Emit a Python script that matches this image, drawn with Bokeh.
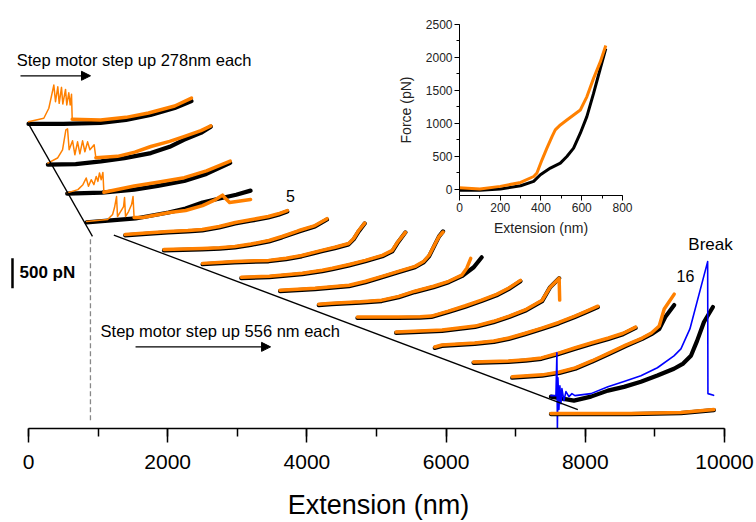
from bokeh.plotting import figure
from bokeh.models import Range1d, Arrow, NormalHead, Label, SingleIntervalTicker, LinearAxis
from bokeh.embed import file_html
from bokeh.resources import INLINE

FONT = "Liberation Sans"
BLACK = "#000000"
ORANGE = "#FF8000"
BLUE = "#0000FF"

# ---------------- main waterfall data ----------------
# start extension (nm) and vertical offset (pN) of each trace pair
start_nm = [0, 278, 556, 834, 1390, 1946, 2502, 3058, 3614, 4170, 4726, 5282, 5838, 6394, 6950, 7506, 7506]
offset_pN = [5100, 4417, 3933, 3450, 3233, 2983, 2750, 2517, 2300, 2067, 1850, 1600, 1350, 1100, 850, 517, 250]

# group 1 (278 nm steps): black = stretch, orange = with unfolding rips
c01_ext_k = [0, 500, 1035, 1400, 1753, 2100, 2342]
c01_k = [0, 0, 17, 67, 150, 267, 383]
c01_ext_rip = [0, 220, 292, 364, 388, 421, 441, 474, 493, 532, 550, 579, 599, 618, 628]
c01_rip = [38, 95, 262, 650, 372, 622, 345, 612, 333, 578, 317, 522, 317, 495, 78]
c01_ext_o = [628, 1035, 1400, 1724, 2100, 2342]
c01_o = [78, 67, 110, 183, 300, 433]

c02_ext_k = [0, 400, 762, 1100, 1480, 1750, 1954, 2199, 2342]
c02_k = [0, 10, 55, 110, 195, 300, 417, 533, 638]
c02_ext_rip = [0, 139, 211, 259, 283, 306, 355, 388, 427, 460, 499, 532, 571, 604, 665, 690]
c02_rip = [28, 112, 250, 583, 600, 250, 400, 167, 383, 183, 400, 217, 383, 250, 333, 117]
c02_ext_o = [690, 1000, 1250, 1480, 1750, 1954, 2199, 2342]
c02_o = [117, 140, 210, 305, 390, 470, 570, 650]

c03_ext_k = [0, 500, 963, 1300, 1681, 2000, 2342]
c03_k = [0, 17, 67, 130, 212, 330, 517]
c03_ext_rip = [0, 154, 226, 273, 306, 345, 384, 417, 441, 464, 489, 513, 527]
c03_rip = [12, 67, 150, 262, 122, 233, 150, 288, 205, 345, 233, 355, 22]
c03_ext_o = [527, 963, 1300, 1681, 2000, 2342]
c03_o = [22, 128, 190, 267, 380, 545]

c04_ext_k = [0, 704, 1178, 1423, 1667, 1911, 2150, 2357]
c04_k = [0, 67, 167, 233, 333, 400, 465, 533]
c04_ext_rip = [0, 302, 374, 402, 431, 445, 489, 532, 546, 560, 604, 647, 668, 683]
c04_rip = [17, 50, 133, 250, 433, 100, 183, 267, 417, 100, 183, 300, 433, 83]
c04_ext_o = [683, 805, 1193, 1423, 1667, 1854, 1954, 1997, 2055, 2357]
c04_o = [83, 83, 167, 200, 283, 383, 458, 400, 333, 383]

# group 2 (556 nm steps)
c05_ext = [0, 300, 618, 900, 1107, 1350, 1581, 1800, 2055, 2200, 2328]
c05_k = [0, 25, 50, 67, 83, 133, 200, 245, 300, 345, 400]
c05_o = [15, 40, 65, 82, 100, 150, 217, 262, 317, 362, 415]

c06_ext = [0, 546, 800, 1020, 1250, 1509, 1696, 1940, 2170, 2342]
c06_k = [0, 17, 30, 50, 90, 150, 217, 317, 400, 517]
c06_o = [15, 32, 45, 65, 105, 165, 232, 332, 415, 530]

c07_ext = [0, 460, 948, 1200, 1423, 1710, 1900, 2098, 2170, 2242, 2328]
c07_k = [0, 33, 50, 85, 133, 217, 270, 333, 417, 550, 683]
c07_o = [15, 48, 65, 100, 148, 232, 285, 348, 432, 565, 690]

c08_ext = [0, 402, 877, 1164, 1308, 1550, 1782, 2026, 2169, 2241, 2357]
c08_k = [0, 17, 67, 117, 150, 215, 283, 367, 450, 583, 767]
c08_o = [15, 32, 82, 132, 165, 230, 298, 382, 465, 598, 767]

c09_ext = [0, 503, 992, 1230, 1466, 1700, 1940, 2060, 2141, 2227, 2285, 2342]
c09_k = [0, 33, 83, 150, 233, 317, 400, 480, 583, 783, 917, 1000]
c09_o = [15, 48, 98, 165, 248, 332, 415, 495, 598, 790, 917, 990]

c10_ext_k = [0, 187, 600, 905, 1150, 1380, 1650, 1868, 2055, 2227, 2342]
c10_k = [0, 17, 40, 67, 130, 217, 300, 383, 483, 633, 800]
c10_ext_o = [0, 187, 600, 905, 1150, 1380, 1650, 1868, 2055, 2127, 2184]
c10_o = [15, 32, 55, 82, 145, 232, 315, 398, 500, 617, 783]

c11_ext = [0, 575, 900, 1063, 1308, 1550, 1782, 2000, 2170, 2342]
c11_k = [0, 0, 8, 17, 100, 190, 283, 380, 483, 617]
c11_o = [15, 15, 23, 32, 115, 205, 298, 395, 498, 630]

c12_ext_k = [0, 661, 1135, 1400, 1624, 1870, 2098, 2213, 2342]
c12_k = [0, 33, 100, 180, 267, 380, 533, 767, 917]
c12_ext_o = [0, 661, 1135, 1400, 1624, 1870, 2098, 2213, 2342, 2350]
c12_o = [15, 48, 115, 195, 282, 395, 548, 767, 917, 550]

c13_ext = [0, 101, 575, 850, 1063, 1300, 1538, 1780, 2012, 2180, 2342]
c13_k = [0, 33, 67, 100, 150, 230, 317, 410, 517, 600, 683]
c13_o = [15, 48, 82, 115, 165, 245, 332, 425, 532, 615, 698]

c14_ext = [0, 503, 750, 977, 1200, 1451, 1700, 1940, 2150, 2328]
c14_k = [0, 17, 35, 67, 140, 233, 320, 400, 480, 583]
c14_o = [15, 32, 50, 82, 155, 248, 335, 415, 495, 598]

c15_ext_k = [0, 431, 680, 905, 1150, 1394, 1630, 1868, 2000, 2112, 2199, 2328]
c15_k = [0, 33, 80, 150, 270, 400, 530, 650, 730, 817, 1017, 1217]
c15_ext_o = [0, 431, 680, 905, 1150, 1394, 1630, 1868, 2000, 2112, 2184, 2328]
c15_o = [15, 48, 95, 165, 285, 415, 545, 665, 750, 867, 1150, 1400]

c16_ext_k = [0, 331, 575, 819, 1050, 1293, 1530, 1768, 1900, 2012, 2100, 2199, 2328]
c16_k = [17, -50, 17, 117, 180, 267, 370, 483, 570, 700, 950, 1267, 1517]
c16_ext_b = [0, 72, 86, 93, 101, 115, 129, 144, 158, 187, 216, 259, 302, 345, 575, 819,
             1050, 1293, 1530, 1768, 1868, 1997, 2252, 2256, 2337]
c16_b = [33, 33, 750, -533, 333, -200, 200, -100, 150, -50, 100, 17, 67, 33, 67, 183,
         270, 367, 500, 700, 817, 1150, 2278, 67, 38]

c17_ext = [0, 1150, 1868, 2342]
c17_k = [-8, -8, 8, 58]
c17_o = [0, 0, 17, 67]

# guide lines (nm, pN)
diag1_x = [0, 919]
diag1_y = [5100, 3217]
diag2_x = [1226, 7893]
diag2_y = [3239, 317]
dash_x = [890, 890]
dash_y = [3167, 133]
scalebar_x = [-230, -230]
scalebar_y = [2850, 2350]

# ---------------- inset data ----------------
ins_ext_k = [0, 100, 200, 300, 364, 397, 446, 495, 527, 560, 593, 625, 658, 691, 718]
ins_f_k = [-20, -20, 0, 50, 116, 217, 318, 393, 494, 620, 847, 1099, 1452, 1830, 2132]
ins_ext_o = [0, 100, 200, 300, 364, 380, 405, 429, 454, 470, 495, 527, 560, 593, 609, 625, 658, 691, 718]
ins_f_o = [20, 0, 40, 100, 190, 242, 443, 620, 796, 897, 973, 1048, 1124, 1200, 1300, 1400, 1680, 1930, 2180]

# ---------------- figure ----------------
p = figure(width=756, height=522,
           x_range=Range1d(-402.3, 10459.8), y_range=Range1d(0, 7166.7),
           output_backend="svg", toolbar_location=None, y_axis_location=None,
           min_border_left=0, min_border_right=0, min_border_top=0, min_border_bottom=92)
p.outline_line_color = None
p.grid.grid_line_color = None
p.background_fill_color = "white"
# inset coordinate system (0..800 nm, -100..2500 pN) inside the same frame
p.extra_x_ranges = {"ix": Range1d(-2252.8, 1457.7)}
p.extra_y_ranges = {"iy": Range1d(-3637.2, 2862.8)}

xa = p.xaxis[0]
xa.ticker = SingleIntervalTicker(interval=2000, num_minor_ticks=2)
xa.bounds = (0, 10000)
xa.axis_line_width = 1.5
xa.major_tick_line_width = 1.5
xa.minor_tick_line_width = 1.5
xa.major_tick_in = 0
xa.major_tick_out = 14
xa.minor_tick_in = 0
xa.minor_tick_out = 8
xa.major_label_text_font = FONT
xa.major_label_text_font_size = "21px"
xa.major_label_text_color = BLACK
xa.major_label_standoff = 12
xa.axis_label = "Extension (nm)"
xa.axis_label_text_font = FONT
xa.axis_label_text_font_style = "normal"
xa.axis_label_text_font_size = "27px"
xa.axis_label_text_color = BLACK
xa.axis_label_standoff = 18


def trace(k, ext, f, color, width):
    x0 = start_nm[k]
    y0 = offset_pN[k]
    p.line([x0 + e for e in ext], [y0 + v for v in f], line_color=color,
           line_width=width, line_join="round", line_cap="round")


group1 = [
    (c01_ext_k, c01_k, c01_ext_rip, c01_rip, c01_ext_o, c01_o),
    (c02_ext_k, c02_k, c02_ext_rip, c02_rip, c02_ext_o, c02_o),
    (c03_ext_k, c03_k, c03_ext_rip, c03_rip, c03_ext_o, c03_o),
    (c04_ext_k, c04_k, c04_ext_rip, c04_rip, c04_ext_o, c04_o),
]
for i, (ek, fk, er, fr, eo, fo) in enumerate(group1):
    trace(i, ek, fk, BLACK, 4.2)
    trace(i, er, fr, ORANGE, 1.5)
    trace(i, eo, fo, ORANGE, 3.5)

group2 = [
    (c05_ext, c05_k, c05_ext, c05_o),
    (c06_ext, c06_k, c06_ext, c06_o),
    (c07_ext, c07_k, c07_ext, c07_o),
    (c08_ext, c08_k, c08_ext, c08_o),
    (c09_ext, c09_k, c09_ext, c09_o),
    (c10_ext_k, c10_k, c10_ext_o, c10_o),
    (c11_ext, c11_k, c11_ext, c11_o),
    (c12_ext_k, c12_k, c12_ext_o, c12_o),
    (c13_ext, c13_k, c13_ext, c13_o),
    (c14_ext, c14_k, c14_ext, c14_o),
    (c15_ext_k, c15_k, c15_ext_o, c15_o),
]
for j, (ek, fk, eo, fo) in enumerate(group2):
    trace(4 + j, ek, fk, BLACK, 4.2)
    trace(4 + j, eo, fo, ORANGE, 3.5)

trace(15, c16_ext_k, c16_k, BLACK, 4.2)
trace(15, c16_ext_b, c16_b, BLUE, 1.6)
trace(16, c17_ext, c17_k, BLACK, 4.2)
trace(16, c17_ext, c17_o, ORANGE, 3.5)

p.line(diag1_x, diag1_y, line_color=BLACK, line_width=1.3)
p.line(diag2_x, diag2_y, line_color=BLACK, line_width=1.3)
p.line(dash_x, dash_y, line_color="#888888", line_width=1.3, line_dash="5 3")
p.line(scalebar_x, scalebar_y, line_color=BLACK, line_width=2.5)

p.add_layout(Arrow(end=NormalHead(size=9, fill_color=BLACK, line_color=BLACK),
                   x_start=-115, y_start=5906, x_end=891, y_end=5906,
                   line_color=BLACK, line_width=1.3))
p.add_layout(Arrow(end=NormalHead(size=9, fill_color=BLACK, line_color=BLACK),
                   x_start=1538, y_start=1367, x_end=3478, y_end=1367,
                   line_color=BLACK, line_width=1.3))


def label(x, y, text, size, align="left", style="normal"):
    p.add_layout(Label(x=x, y=y, text=text, text_font=FONT, text_font_size=size,
                       text_align=align, text_baseline="middle", text_font_style=style,
                       text_color=BLACK))


label(-170, 6167, "Step motor step up 278nm each", "16.5px")
label(1035, 1633, "Step motor step up 556 nm each", "16.5px")
label(-129, 2617, "500 pN", "17px", style="bold")
label(3765, 3900, "5", "16px", align="center")
label(9440, 2550, "16", "16px", align="center")
label(9800, 3083, "Break", "17px", align="center")

# ---------------- inset (own ranges and axes) ----------------
ix = LinearAxis(x_range_name="ix", y_range_name="iy", fixed_location=-100, bounds=(0, 800),
                ticker=SingleIntervalTicker(interval=200, num_minor_ticks=2),
                axis_label="Extension (nm)")
iy = LinearAxis(x_range_name="ix", y_range_name="iy", fixed_location=0, bounds=(-100, 2500),
                ticker=SingleIntervalTicker(interval=500, num_minor_ticks=2),
                axis_label="Force (pN)")
for ax in (ix, iy):
    ax.major_tick_in = 0
    ax.major_tick_out = 5
    ax.minor_tick_in = 0
    ax.minor_tick_out = 3
    ax.major_label_text_font = FONT
    ax.major_label_text_font_size = "12px"
    ax.major_label_text_color = "#222222"
    ax.axis_label_text_font = FONT
    ax.axis_label_text_font_style = "normal"
    ax.axis_label_text_font_size = "14px"
    ax.axis_label_text_color = "#222222"
ix.major_label_standoff = 2
iy.major_label_standoff = 2
ix.axis_label_standoff = 5
iy.axis_label_standoff = 9
p.add_layout(ix, "below")
p.add_layout(iy, "left")

p.line(ins_ext_k, ins_f_k, line_color=BLACK, line_width=3, x_range_name="ix", y_range_name="iy")
p.line(ins_ext_o, ins_f_o, line_color=ORANGE, line_width=3, x_range_name="ix", y_range_name="iy")

open("out.html", "w").write(file_html(p, INLINE))
